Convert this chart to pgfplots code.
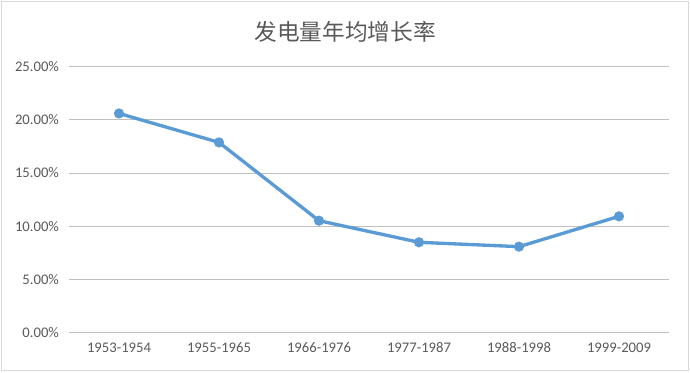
\documentclass[border=0pt]{standalone}
\usepackage{pgfplots}
\pgfplotsset{compat=1.18}
\usepackage{fontspec}
\setmainfont{Carlito}
\newfontfamily\cjk{Noto Sans CJK SC}
\definecolor{txt}{HTML}{595959}
\definecolor{grid}{HTML}{D9D9D9}
\definecolor{ln}{HTML}{5B9BD5}
\begin{document}
\begin{tikzpicture}[x=0.75pt,y=0.75pt]
\path[use as bounding box] (0,0) rectangle (690,372);
\draw[grid, line width=0.75pt] (1.5,1.5) rectangle (688.5,370.5);
\node[text=txt, font=\cjk\fontsize{17}{18}\selectfont] at (345,340) {发电量年均增长率};
\begin{axis}[
  at={(69,37)}, anchor=south west,
  scale only axis, width=450pt, height=199.5pt,
  xmin=-0.5, xmax=5.5, ymin=0, ymax=25,
  xtick={0,1,2,3,4,5},
  xticklabels={1953-1954,1955-1965,1966-1976,1977-1987,1988-1998,1999-2009},
  ytick={0,5,10,15,20,25},
  yticklabels={0.00\%,5.00\%,10.00\%,15.00\%,20.00\%,25.00\%},
  xmajorgrids=false, ymajorgrids=true, grid style={grid, line width=0.75pt},
  axis line style={draw=none},
  major tick length=0pt,
  tick label style={text=txt, font=\fontsize{11}{12}\selectfont},
  xticklabel style={yshift=-4pt},
  yticklabel style={xshift=-4pt},
  clip=false,
]
\addplot[ln, line width=2.5pt, mark=*, mark size=3.3pt, mark options={fill=ln, draw=ln, line width=1pt}]
coordinates {(0,20.6) (1,17.88) (2,10.52) (3,8.49) (4,8.08) (5,10.93)};
\end{axis}
\end{tikzpicture}
\end{document}
